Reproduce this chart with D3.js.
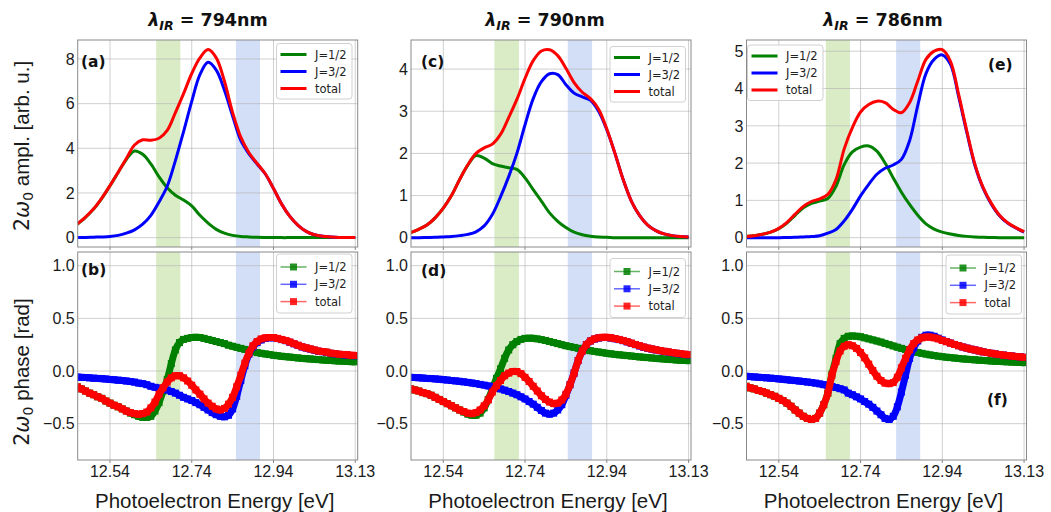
<!DOCTYPE html>
<html><head><meta charset="utf-8">
<script src="https://cdn.jsdelivr.net/npm/d3@7"></script>
<style>body{margin:0;background:#fff} svg{display:block}</style>
</head><body><svg id="c" width="1051" height="512"></svg>
<script>
// ---------------- DATA ----------------
const ampEnergy = [12.46,12.48,12.50,12.52,12.54,12.56,12.58,12.60,12.62,12.64,12.66,12.68,12.70,12.72,12.74,12.76,12.78,12.80,12.82,12.84,12.86,12.88,12.90,12.92,12.94,12.96,12.98,13.00,13.02,13.04,13.06,13.08,13.10,13.12,13.14];
const phaseEnergy = [12.46,12.47,12.48,12.49,12.50,12.51,12.52,12.53,12.54,12.55,12.56,12.57,12.58,12.59,12.60,12.61,12.62,12.63,12.64,12.65,12.66,12.67,12.68,12.69,12.70,12.71,12.72,12.73,12.74,12.75,12.76,12.77,12.78,12.79,12.80,12.81,12.82,12.83,12.84,12.85,12.86,12.87,12.88,12.89,12.90,12.91,12.92,12.93,12.94,12.95,12.96,12.97,12.98,12.99,13.00,13.01,13.02,13.03,13.04,13.05,13.06,13.07,13.08,13.09,13.10,13.11,13.12,13.13,13.14];

const wavelengths = ["794nm","790nm","786nm"];
const seriesNames = ["J=1/2","J=3/2","total"];
const letters = [["(a)","(b)"],["(c)","(d)"],["(e)","(f)"]];

// amplitude, 794 nm
const amp794_J12 = [0.6,0.91,1.28,1.76,2.32,2.92,3.5,3.88,3.73,3.3,2.72,2.23,1.9,1.68,1.42,1.0,0.65,0.37,0.2,0.1,0.05,0.03,0.015,0.008,0.004,0,0,0,0,0,0,0,0,0,0];
const amp794_J32 = [0.01,0.01,0.02,0.03,0.05,0.1,0.2,0.35,0.6,1.0,1.6,2.3,3.45,4.75,6.1,7.3,7.85,7.5,6.6,5.45,4.35,3.75,3.3,2.85,2.2,1.5,0.95,0.55,0.28,0.13,0.06,0.03,0.01,0.005,0];
const amp794_tot = [0.61,0.92,1.29,1.77,2.33,2.93,3.54,4.15,4.38,4.36,4.45,4.8,5.6,6.45,7.35,8.05,8.42,8.05,7.0,5.6,4.5,3.8,3.32,2.86,2.2,1.5,0.95,0.55,0.28,0.13,0.06,0.03,0.01,0.005,0];
// amplitude, 790 nm
const amp790_J12 = [0.12,0.2,0.3,0.47,0.7,1.0,1.38,1.72,1.95,1.89,1.76,1.7,1.66,1.62,1.42,1.14,0.87,0.59,0.39,0.24,0.13,0.07,0.035,0.015,0.01,0,0,0,0,0,0,0,0,0,0];
const amp790_J32 = [0,0,0.005,0.01,0.02,0.03,0.05,0.08,0.14,0.28,0.55,0.97,1.45,2.0,2.68,3.3,3.7,3.89,3.87,3.63,3.43,3.34,3.26,3.0,2.56,2.0,1.38,0.87,0.53,0.3,0.17,0.09,0.05,0.03,0.02];
const amp790_tot = [0.12,0.2,0.3,0.47,0.7,1.0,1.38,1.73,2.0,2.13,2.22,2.45,2.85,3.28,3.78,4.2,4.43,4.46,4.32,4.02,3.68,3.45,3.3,3.05,2.58,2.0,1.38,0.87,0.53,0.3,0.17,0.09,0.05,0.03,0.02];
// amplitude, 786 nm
const amp786_J12 = [0.03,0.05,0.09,0.15,0.24,0.39,0.6,0.8,0.92,0.98,1.05,1.38,1.96,2.3,2.43,2.46,2.32,2.0,1.6,1.22,0.89,0.6,0.37,0.23,0.15,0.1,0.06,0.035,0.02,0.01,0.005,0,0,0,0];
const amp786_J32 = [0,0,0,0,0,0.005,0.01,0.02,0.03,0.05,0.12,0.22,0.45,0.76,1.12,1.43,1.7,1.86,1.95,2.1,2.6,3.55,4.4,4.78,4.9,4.65,3.78,2.82,1.93,1.32,0.9,0.59,0.39,0.26,0.15];
const amp786_tot = [0.03,0.05,0.09,0.15,0.25,0.41,0.63,0.84,0.97,1.04,1.16,1.56,2.38,2.95,3.37,3.57,3.66,3.62,3.44,3.35,3.62,4.2,4.78,5.0,5.04,4.73,3.84,2.86,1.96,1.34,0.92,0.6,0.4,0.27,0.16];

// phase, 794 nm
const ph794_J12 = [-0.15,-0.17,-0.19,-0.21,-0.225,-0.245,-0.26,-0.285,-0.305,-0.325,
 -0.34,-0.36,-0.38,-0.4,-0.415,-0.43,-0.44,-0.44,-0.43,-0.38,
 -0.3,-0.19,-0.08,0.07,0.2,0.27,0.3,0.31,0.318,0.32,
 0.318,0.31,0.3,0.29,0.28,0.27,0.26,0.245,0.235,0.225,
 0.215,0.205,0.195,0.185,0.175,0.168,0.162,0.156,0.15,0.145,
 0.14,0.136,0.132,0.128,0.124,0.12,0.117,0.114,0.111,0.108,
 0.105,0.102,0.1,0.097,0.095,0.093,0.091,0.089,0.087];
const ph794_J32 = [-0.058,-0.06,-0.062,-0.065,-0.068,-0.07,-0.073,-0.076,-0.08,-0.083,
 -0.087,-0.09,-0.095,-0.1,-0.105,-0.115,-0.12,-0.13,-0.145,-0.155,
 -0.162,-0.17,-0.18,-0.195,-0.21,-0.23,-0.25,-0.265,-0.28,-0.3,
 -0.32,-0.345,-0.37,-0.395,-0.415,-0.43,-0.435,-0.42,-0.36,-0.24,
 -0.09,0.05,0.16,0.23,0.27,0.295,0.31,0.315,0.316,0.308,
 0.298,0.288,0.273,0.258,0.243,0.228,0.218,0.208,0.198,0.188,
 0.183,0.177,0.168,0.163,0.158,0.154,0.151,0.147,0.145];
const ph794_tot = [-0.15,-0.17,-0.19,-0.21,-0.225,-0.245,-0.26,-0.285,-0.305,-0.325,
 -0.34,-0.36,-0.38,-0.395,-0.405,-0.41,-0.405,-0.39,-0.35,-0.295,
 -0.22,-0.16,-0.105,-0.065,-0.045,-0.045,-0.065,-0.095,-0.135,-0.18,
 -0.22,-0.265,-0.305,-0.335,-0.36,-0.37,-0.355,-0.315,-0.25,-0.15,
 -0.04,0.075,0.17,0.24,0.28,0.305,0.315,0.318,0.318,0.31,
 0.3,0.29,0.275,0.26,0.245,0.23,0.22,0.21,0.2,0.19,
 0.185,0.18,0.17,0.165,0.16,0.157,0.154,0.15,0.148];
// phase, 790 nm
const ph790_J12 = [-0.17,-0.18,-0.19,-0.205,-0.215,-0.23,-0.25,-0.27,-0.29,-0.31,
 -0.33,-0.35,-0.37,-0.39,-0.41,-0.42,-0.42,-0.4,-0.35,-0.27,
 -0.17,-0.07,0.02,0.12,0.2,0.25,0.28,0.3,0.31,0.312,
 0.31,0.305,0.298,0.29,0.28,0.27,0.26,0.25,0.24,0.232,
 0.224,0.216,0.208,0.2,0.193,0.186,0.18,0.174,0.168,0.163,
 0.158,0.154,0.15,0.146,0.142,0.138,0.134,0.13,0.127,0.124,
 0.12,0.117,0.114,0.111,0.108,0.105,0.102,0.1,0.098];
const ph790_J32 = [-0.06,-0.062,-0.064,-0.067,-0.07,-0.072,-0.075,-0.078,-0.082,-0.086,
 -0.09,-0.094,-0.098,-0.103,-0.108,-0.114,-0.12,-0.127,-0.134,-0.142,
 -0.15,-0.16,-0.17,-0.182,-0.195,-0.21,-0.225,-0.245,-0.265,-0.29,
 -0.315,-0.345,-0.375,-0.4,-0.41,-0.4,-0.37,-0.32,-0.23,-0.13,
 -0.02,0.1,0.19,0.25,0.285,0.303,0.313,0.318,0.318,0.313,
 0.306,0.298,0.288,0.276,0.263,0.25,0.238,0.226,0.216,0.208,
 0.2,0.193,0.186,0.18,0.174,0.168,0.163,0.158,0.153];
const ph790_tot = [-0.17,-0.18,-0.19,-0.205,-0.215,-0.23,-0.25,-0.27,-0.29,-0.31,
 -0.33,-0.35,-0.37,-0.385,-0.4,-0.405,-0.395,-0.37,-0.33,-0.275,
 -0.2,-0.14,-0.09,-0.045,-0.02,-0.005,-0.005,-0.025,-0.06,-0.1,
 -0.145,-0.19,-0.235,-0.27,-0.295,-0.31,-0.305,-0.275,-0.22,-0.13,
 -0.02,0.1,0.19,0.25,0.285,0.305,0.315,0.32,0.32,0.315,
 0.308,0.3,0.29,0.278,0.265,0.252,0.24,0.228,0.218,0.21,
 0.202,0.195,0.188,0.182,0.176,0.17,0.165,0.16,0.155];
// phase, 786 nm
const ph786_J12 = [-0.145,-0.16,-0.17,-0.185,-0.195,-0.21,-0.225,-0.24,-0.26,-0.28,
 -0.305,-0.335,-0.37,-0.4,-0.43,-0.45,-0.46,-0.45,-0.4,-0.32,
 -0.21,-0.03,0.12,0.26,0.31,0.33,0.333,0.33,0.325,0.315,
 0.305,0.295,0.285,0.275,0.262,0.25,0.238,0.226,0.215,0.205,
 0.195,0.185,0.176,0.168,0.16,0.153,0.147,0.141,0.136,0.131,
 0.127,0.123,0.119,0.115,0.112,0.109,0.106,0.103,0.1,0.098,
 0.095,0.093,0.091,0.089,0.087,0.085,0.083,0.081,0.079];
const ph786_J32 = [-0.05,-0.053,-0.056,-0.059,-0.062,-0.065,-0.068,-0.071,-0.075,-0.079,
 -0.083,-0.087,-0.091,-0.095,-0.1,-0.105,-0.11,-0.115,-0.122,-0.13,
 -0.138,-0.147,-0.157,-0.168,-0.18,-0.21,-0.225,-0.245,-0.265,-0.29,
 -0.315,-0.345,-0.38,-0.415,-0.45,-0.46,-0.43,-0.34,-0.2,-0.04,
 0.12,0.22,0.285,0.32,0.34,0.34,0.33,0.312,0.295,0.28,
 0.265,0.252,0.24,0.228,0.218,0.208,0.2,0.19,0.182,0.175,
 0.168,0.162,0.156,0.151,0.146,0.142,0.138,0.134,0.13];
const ph786_tot = [-0.145,-0.16,-0.17,-0.185,-0.195,-0.21,-0.225,-0.24,-0.26,-0.28,
 -0.305,-0.335,-0.37,-0.4,-0.43,-0.45,-0.46,-0.45,-0.4,-0.32,
 -0.21,-0.04,0.09,0.19,0.235,0.25,0.24,0.215,0.175,0.125,
 0.065,0.005,-0.05,-0.09,-0.115,-0.12,-0.11,-0.06,0.03,0.12,
 0.2,0.26,0.295,0.315,0.322,0.322,0.315,0.305,0.29,0.278,
 0.265,0.252,0.24,0.228,0.218,0.208,0.2,0.19,0.182,0.175,
 0.168,0.162,0.156,0.151,0.146,0.142,0.138,0.134,0.13];

const xTickValues = [12.54,12.74,12.94,13.14];
const xTickLabels = ["12.54","12.74","12.94","13.13"];
const ampTicks = [[0,2,4,6,8],[0,1,2,3,4],[0,1,2,3,4,5]];
const ampDomains = [[-0.42,8.85],[-0.22,4.69],[-0.25,5.3]];
const phaseTicks = [-0.5,0.0,0.5,1.0];
const phaseDomain = [-0.845,1.13];
const bandJ12 = [[12.653,12.712],[12.665,12.725],[12.655,12.714]];
const bandJ32 = [[12.848,12.907],[12.8445,12.904],[12.827,12.886]];

const ampSeries = [[amp794_J12,amp794_J32,amp794_tot],[amp790_J12,amp790_J32,amp790_tot],[amp786_J12,amp786_J32,amp786_tot]];
const phaseSeries = [[ph794_J12,ph794_J32,ph794_tot],[ph790_J12,ph790_J32,ph790_tot],[ph786_J12,ph786_J32,ph786_tot]];

// ---------------- LAYOUT ----------------
const colors = ["#008000","#0000ff","#ff0000"];
const FONT = "'DejaVu Sans', sans-serif";
const TFONT = "'Liberation Sans', Arial, sans-serif";
const colLeft = [77.7, 411, 746.5];
const colW = 280;
const topY = [40, 247], botY = [252, 460];
const titleX = [208, 545, 883];
const legendTopPos = [[276.5,43.5],[610,46.5],[747.5,45]];
const legendBotPos = [[276.5,254],[610,258.5],[946,255]];
const letterPos = [[[81,67],[81,275]],[[421,67],[421,276]],[[988,70],[987,405]]];

const svg = d3.select("#c");
let clipId = 0;

function panel(ci, isTop) {
  const L = colLeft[ci];
  const [y0, y1] = isTop ? topY : botY;
  const x = d3.scaleLinear().domain([12.461, 13.146]).range([L, L + colW]);
  const y = d3.scaleLinear().domain(isTop ? ampDomains[ci] : phaseDomain).range([y1, y0]);
  const yt = isTop ? ampTicks[ci] : phaseTicks;
  const g = svg.append("g");
  const cid = "clip" + (clipId++);
  g.append("clipPath").attr("id", cid).append("rect")
    .attr("x", L).attr("y", y0).attr("width", colW).attr("height", y1 - y0);
  const inner = g.append("g").attr("clip-path", `url(#${cid})`);
  // bands
  inner.append("rect").attr("x", x(bandJ12[ci][0])).attr("width", x(bandJ12[ci][1]) - x(bandJ12[ci][0]))
    .attr("y", y0).attr("height", y1 - y0).attr("fill", "#d9ecc6");
  inner.append("rect").attr("x", x(bandJ32[ci][0])).attr("width", x(bandJ32[ci][1]) - x(bandJ32[ci][0]))
    .attr("y", y0).attr("height", y1 - y0).attr("fill", "#d3dff6");
  // grid
  inner.selectAll(".gx").data(xTickValues).join("line")
    .attr("x1", d => x(d)).attr("x2", d => x(d)).attr("y1", y0).attr("y2", y1)
    .attr("stroke", "#b0b0b0").attr("stroke-opacity", 0.6).attr("stroke-width", 1);
  inner.selectAll(".gy").data(yt).join("line")
    .attr("x1", L).attr("x2", L + colW).attr("y1", d => y(d)).attr("y2", d => y(d))
    .attr("stroke", "#b0b0b0").attr("stroke-opacity", 0.6).attr("stroke-width", 1);

  if (isTop) {
    const series = ampSeries[ci];
    series.forEach((vals, si) => {
      const line = d3.line().x((d, i) => x(ampEnergy[i])).y(d => y(d)).curve(d3.curveCatmullRom.alpha(0.5));
      inner.append("path").datum(vals).attr("d", line).attr("fill", "none")
        .attr("stroke", colors[si]).attr("stroke-width", 3).attr("stroke-linejoin", "round");
    });
  } else {
    const series = phaseSeries[ci];
    series.forEach((vals, si) => {
      const line = d3.line().x((d, i) => x(phaseEnergy[i])).y(d => y(d)).curve(d3.curveCatmullRom.alpha(0.5));
      inner.append("path").datum(vals).attr("d", line).attr("fill", "none")
        .attr("stroke", colors[si]).attr("stroke-width", 7).attr("stroke-linejoin", "round");
      inner.selectAll(null).data(vals).join("rect")
        .attr("x", (d, i) => x(phaseEnergy[i]) - 3.5).attr("y", d => y(d) - 3.5)
        .attr("width", 7).attr("height", 7).attr("fill", colors[si]);
    });
  }
  // spines
  g.append("rect").attr("x", L).attr("y", y0).attr("width", colW).attr("height", y1 - y0)
    .attr("fill", "none").attr("stroke", "#8a8a8a").attr("stroke-width", 1);
  // x ticks
  g.selectAll(".xt").data(xTickValues).join("line")
    .attr("x1", d => x(d)).attr("x2", d => x(d)).attr("y1", y1).attr("y2", y1 + 3)
    .attr("stroke", "#8a8a8a");
  if (!isTop) {
    g.selectAll(".xl").data(xTickValues).join("text")
      .attr("x", d => x(d)).attr("y", y1 + 17).attr("text-anchor", "middle")
      .attr("font-family", TFONT).attr("font-size", 16).attr("fill", "#1a1a1a")
      .text((d, i) => xTickLabels[i]);
    g.append("text").attr("x", L + colW / 2 - 3).attr("y", 508).attr("text-anchor", "middle")
      .attr("font-family", TFONT).attr("font-size", 20.5).attr("fill", "#1a1a1a")
      .text("Photoelectron Energy [eV]");
  }
  // y tick labels
  g.selectAll(".yl").data(yt).join("text")
    .attr("x", L - 3).attr("y", d => y(d)).attr("dy", "0.36em").attr("text-anchor", "end")
    .attr("font-family", TFONT).attr("font-size", 16).attr("fill", "#1a1a1a")
    .text(d => isTop ? d3.format("d")(d) : d3.format(".1f")(d).replace("-", "\u2212"));
  // panel letter
  const lp = letterPos[ci][isTop ? 0 : 1];
  g.append("text").attr("x", lp[0]).attr("y", lp[1]).attr("font-family", FONT)
    .attr("font-weight", "bold").attr("font-size", 15.5).attr("fill", "#111")
    .text(letters[ci][isTop ? 0 : 1]);
  // legend
  const [lx, ly] = isTop ? legendTopPos[ci] : legendBotPos[ci];
  const lg = g.append("g").attr("transform", `translate(${lx},${ly})`);
  lg.append("rect").attr("width", 75.5).attr("height", isTop ? 55.5 : 59)
    .attr("rx", 3).attr("fill", "#fff").attr("fill-opacity", 0.85).attr("stroke", "#d0d0d0");
  seriesNames.forEach((name, si) => {
    const ry = isTop ? 11 + si * 17 : 13 + si * 17.3;
    if (isTop) {
      lg.append("line").attr("x1", 4).attr("x2", 30).attr("y1", ry).attr("y2", ry)
        .attr("stroke", colors[si]).attr("stroke-width", 3);
    } else {
      lg.append("line").attr("x1", 4).attr("x2", 30).attr("y1", ry).attr("y2", ry)
        .attr("stroke", colors[si]).attr("stroke-width", 1.5).attr("stroke-opacity", 0.6);
      lg.append("rect").attr("x", 13.5).attr("y", ry - 3.5).attr("width", 7).attr("height", 7)
        .attr("fill", colors[si]).attr("fill-opacity", 0.85);
    }
    lg.append("text").attr("x", 38.5).attr("y", ry).attr("dy", "0.36em")
      .attr("font-family", FONT).attr("font-size", 11.5).attr("fill", "#222").text(name);
  });
}

for (let ci = 0; ci < 3; ci++) {
  panel(ci, true);
  panel(ci, false);
  // title
  const t = svg.append("text").attr("x", titleX[ci]).attr("y", 26).attr("text-anchor", "middle")
    .attr("font-family", FONT).attr("font-weight", "bold").attr("font-size", 17.5).attr("fill", "#111");
  t.append("tspan").attr("font-style", "italic").text("\u03bb");
  t.append("tspan").attr("font-style", "italic").attr("font-size", 12.5).attr("dy", 4).text("IR");
  t.append("tspan").attr("dy", -4).text(" = " + wavelengths[ci]);
}

// y labels
function ylabel(cy, rest) {
  const t = svg.append("text").attr("transform", `translate(29,${cy}) rotate(-90)`)
    .attr("text-anchor", "middle").attr("font-size", 20.5).attr("fill", "#1a1a1a");
  t.append("tspan").attr("font-family", FONT).text("2");
  t.append("tspan").attr("font-family", FONT).attr("font-style", "italic").text("\u03c9");
  t.append("tspan").attr("font-family", FONT).attr("font-size", 14).attr("dy", 4).text("0");
  t.append("tspan").attr("font-family", TFONT).attr("dy", -4).text(rest);
}
ylabel(146, " ampl. [arb. u.]");
ylabel(372, " phase [rad]");
</script></body></html>
